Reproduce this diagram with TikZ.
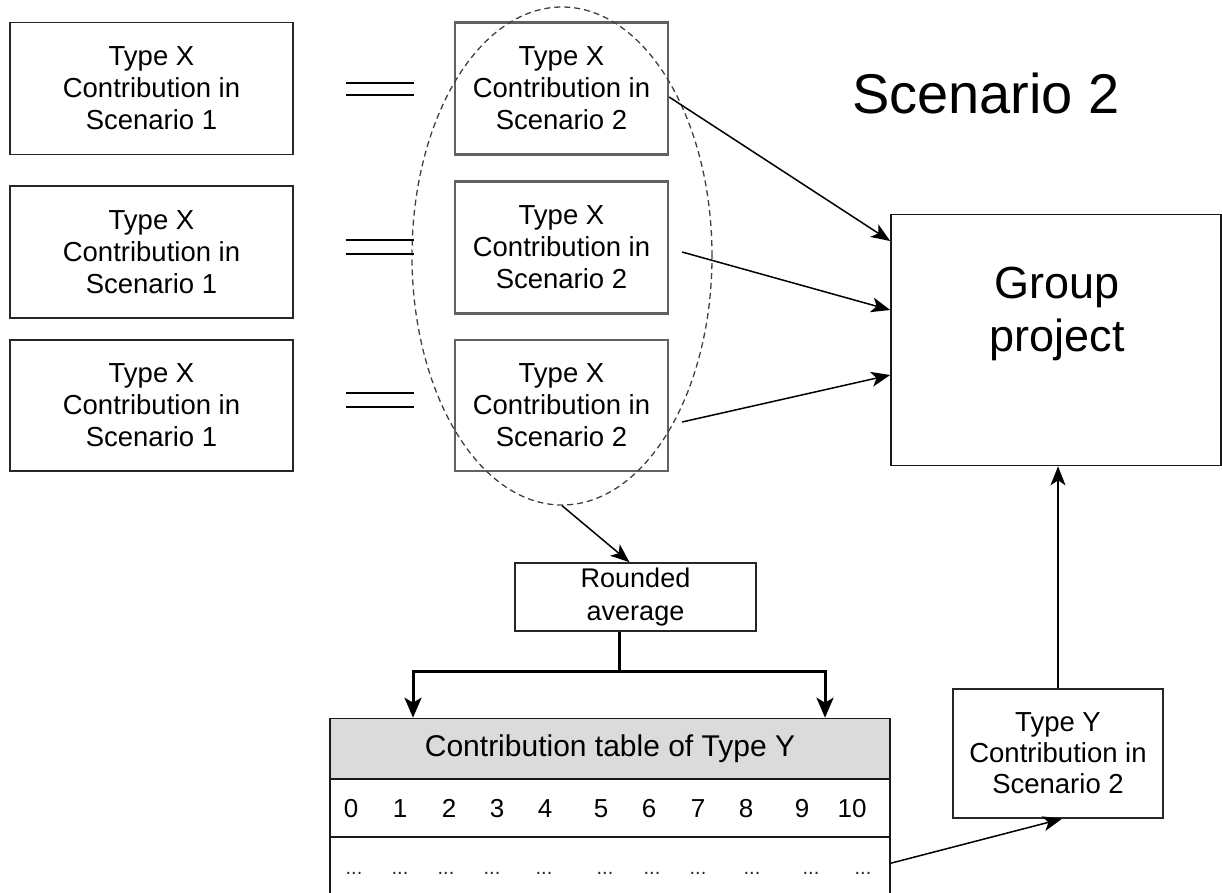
\documentclass[tikz,border=0pt]{standalone}
\usepackage{fontspec}
\setmainfont{Liberation Sans}
\usetikzlibrary{arrows.meta,shapes.geometric,calc}
\begin{document}
\begin{tikzpicture}[x=1pt,y=-1pt,
  box/.style={draw=black!85, line width=1.6pt, rectangle, inner sep=0pt,
    align=center, font=\fontsize{27.5}{32}\selectfont},
  midbox/.style={box, draw=black!62, line width=2.2pt},
  arr/.style={-{Stealth[length=19pt,width=15pt,inset=5pt]}, line width=1.5pt},
  tarr/.style={-{Stealth[length=20pt,width=17pt,inset=5pt]}, line width=3pt, line join=miter},
  eqline/.style={line width=1.8pt},
  num/.style={font=\fontsize{26}{30}\selectfont, inner sep=0pt, text height=18pt, text depth=0pt},
  dotcell/.style={font=\fontsize{20}{22}\selectfont, inner sep=0pt, text=black!85}]
\useasboundingbox (0,0) rectangle (1222,892);
\clip (0,0) rectangle (1222,892);

% Scenario 1 contributions
\node[box, minimum width=283pt, minimum height=132pt] (l1) at (151.5,88.5) {Type X\\Contribution in\\Scenario 1};
\node[box, minimum width=283pt, minimum height=132pt] (l2) at (151.5,252) {Type X\\Contribution in\\Scenario 1};
\node[box, minimum width=283pt, minimum height=131pt] (l3) at (151.5,405.5) {Type X\\Contribution in\\Scenario 1};

% Scenario 2 contributions
\node[midbox, minimum width=213pt, minimum height=132pt] (m1) at (561.5,88.5) {Type X\\Contribution in\\Scenario 2};
\node[midbox, minimum width=213pt, minimum height=132pt] (m2) at (561.5,247.5) {Type X\\Contribution in\\Scenario 2};
\node[midbox, minimum width=213pt, minimum height=131pt] (m3) at (561.5,405.5) {Type X\\Contribution in\\Scenario 2};

% grouping of the Type X contributions
\node[draw=black!75, ellipse, dash pattern=on 6pt off 4pt, line width=1.3pt,
  minimum width=300pt, minimum height=498pt, inner sep=0pt] (ell) at (562,256) {};

% equality marks
\draw[eqline] ([xshift=52pt,yshift=5.5pt]l1.east) -- ++(68pt,0);
\draw[eqline] ([xshift=52pt,yshift=-6.5pt]l1.east) -- ++(68pt,0);
\draw[eqline] ([xshift=52pt,yshift=12pt]l2.east) -- ++(68pt,0);
\draw[eqline] ([xshift=52pt,yshift=-2pt]l2.east) -- ++(68pt,0);
\draw[eqline] ([xshift=52pt,yshift=12.5pt]l3.east) -- ++(68pt,0);
\draw[eqline] ([xshift=52pt,yshift=-1.5pt]l3.east) -- ++(68pt,0);

% title
\node[font=\fontsize{56}{62}\selectfont, inner sep=0pt] (title) at (986,93) {Scenario 2};

% group project
\node[draw=black!90, line width=1.6pt, minimum width=330pt, minimum height=251pt, inner sep=0pt] (gp) at (1056,340) {};
\node[font=\fontsize{45}{53}\selectfont, align=center, inner sep=0pt] (gpt) at (1057,314) {Group\\project};

% rounded average
\node[box, minimum width=241pt, minimum height=68pt, font=\fontsize{27}{33}\selectfont] (ra) at (635.5,597) {Rounded\\average};

% contribution table
\node[draw=black!90, fill=black!14, line width=1.6pt, minimum width=560pt, minimum height=61pt,
  inner sep=0pt, font=\fontsize{30}{36}\selectfont] (th) at (610,749) {Contribution table of Type Y};
\node[draw=black!90, line width=1.6pt, minimum width=560pt, minimum height=58pt, inner sep=0pt] (tr1) at (610,808) {};
\node[draw=black!90, line width=1.6pt, minimum width=560pt, minimum height=86pt, inner sep=0pt] (tr2) at (610,880) {};
\foreach \v/\x in {0/351,1/400,2/449,3/497,4/545,5/601,6/649,7/698,8/746,9/802,10/852}
  \node[num] (n\v) at (\x,808) {\v};
\foreach \v/\x in {0/354,1/400,2/446,3/492,4/544,5/605,6/652,7/698,8/752,9/811,10/863}
  \node[dotcell] (d\v) at (\x,873) {...};

% Type Y contribution
\node[box, minimum width=210pt, minimum height=129pt, font=\fontsize{27.5}{31}\selectfont] (ty) at (1058,753.5) {Type Y\\Contribution in\\Scenario 2};

% connectors
\draw[arr] ([yshift=-8.5pt]m1.east) -- ([yshift=99pt]gp.west);
\draw[arr] ([xshift=13pt,yshift=-4.5pt]m2.east) -- ([yshift=30pt]gp.west);
\draw[arr] ([xshift=13pt,yshift=-16.5pt]m3.east) -- ([yshift=-35pt]gp.west);
\draw[arr] (ell.south) -- ([xshift=-6pt]ra.north);

\coordinate (jn) at (619,671);
\draw[line width=3pt] ([xshift=-16.5pt]ra.south) -- (jn);
\draw[tarr] (jn) -| ([xshift=-197pt]th.north);
\draw[tarr] (jn) -| ([xshift=215pt]th.north);

\draw[arr] ([yshift=-27pt]tr2.north east) -- ([xshift=4pt]ty.south);
\draw[arr] (ty.north) -- (ty.north |- gp.south);
\end{tikzpicture}
\end{document}
